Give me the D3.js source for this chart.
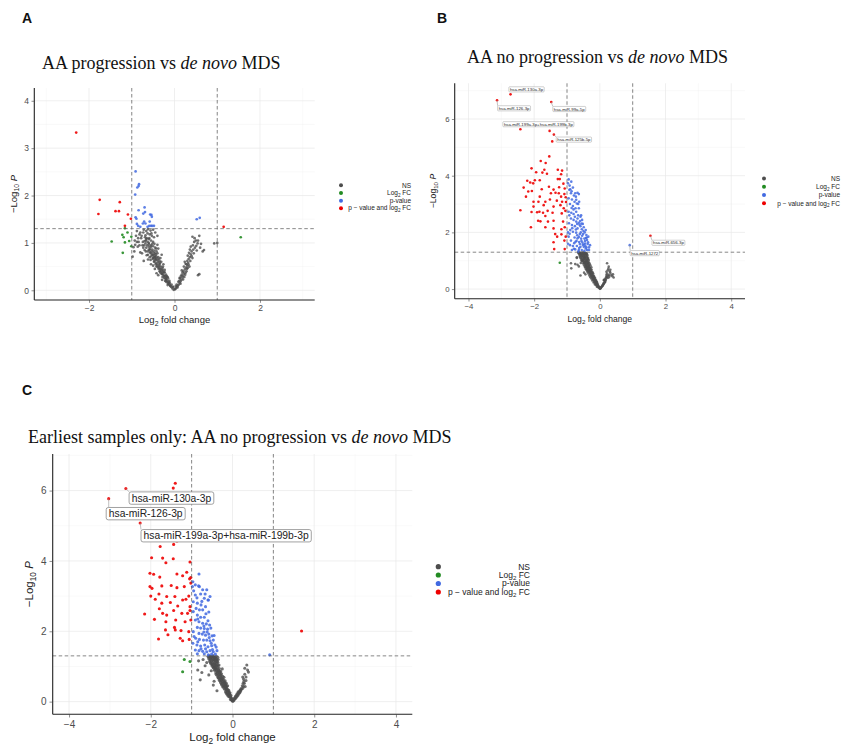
<!DOCTYPE html>
<html>
<head>
<meta charset="utf-8">
<script src="https://cdn.jsdelivr.net/npm/d3@7"></script>
<style>
body{margin:0;background:#fff}
svg{display:block}
</style>
</head>
<body>
<script>
// ---- Panel A: AA progression vs de novo MDS ----
var aNS = [[-0.02,0.01],[0.01,0.02],[-0.05,0.04],[0.04,0.05],[-0.08,0.07],[0.06,0.08],[-0.03,0.06],[0.02,0.03],[-0.1,0.09],[0.08,0.1],
  [-0.12,0.12],[-0.15,0.14],[-0.18,0.17],[-0.2,0.19],[-0.11,0.16],[-0.16,0.11],[0.1,0.12],[0.12,0.16],[0.14,0.19],[0.11,0.2],[-0.22,0.2],[-0.14,0.18],
  [-0.2,0.24],[-0.24,0.26],[-0.28,0.28],[-0.22,0.3],[-0.26,0.33],[-0.3,0.35],[-0.33,0.37],[-0.25,0.38],[-0.35,0.4],[-0.38,0.32],[-0.42,0.36],[-0.19,0.28],[-0.29,0.22],
  [0.16,0.22],[0.18,0.27],[0.2,0.3],[0.22,0.35],[0.19,0.38],[0.25,0.33],[0.15,0.3],[0.28,0.4],[0.55,0.32],[0.58,0.34],
  [-0.3,0.42],[-0.34,0.45],[-0.38,0.48],[-0.42,0.5],[-0.36,0.53],[-0.4,0.56],[-0.44,0.58],[-0.32,0.5],[-0.46,0.45],[-0.5,0.52],[-0.28,0.47],[-0.48,0.6],[-0.55,0.55],[-0.26,0.55],
  [0.24,0.44],[0.27,0.48],[0.3,0.52],[0.26,0.56],[0.32,0.58],[0.35,0.5],[0.22,0.5],
  [-0.35,0.62],[-0.4,0.64],[-0.45,0.66],[-0.5,0.68],[-0.38,0.7],[-0.43,0.72],[-0.48,0.74],[-0.53,0.76],[-0.58,0.7],[-0.62,0.65],[-0.33,0.68],[-0.56,0.79],[-0.46,0.78],[-0.65,0.74],[-0.72,0.62],[-0.3,0.75],
  [0.3,0.62],[0.33,0.66],[0.36,0.7],[0.31,0.73],[0.38,0.76],[0.42,0.68],[0.34,0.79],[0.45,0.78],
  [-0.42,0.82],[-0.47,0.84],[-0.52,0.86],[-0.57,0.88],[-0.62,0.82],[-0.45,0.9],[-0.5,0.93],[-0.55,0.95],[-0.6,0.97],[-0.66,0.9],[-0.7,0.85],[-0.38,0.88],[-0.75,0.95],[-0.4,0.96],[-0.68,0.99],[-0.8,0.8],[-0.86,0.92],[-0.96,0.91],[-0.98,0.71],[-0.94,0.82],
  [0.4,0.82],[0.44,0.86],[0.48,0.9],[0.38,0.92],[0.52,0.84],[0.62,0.98],[0.66,0.82],[0.69,0.85],[0.54,0.99],
  [-0.5,1.02],[-0.55,1.05],[-0.6,1.08],[-0.65,1.1],[-0.7,1.04],[-0.48,1.12],[-0.53,1.15],[-0.58,1.18],[-0.63,1.2],[-0.68,1.16],[-0.73,1.22],[-0.78,1.1],[-0.82,1.18],[-0.88,1.25],[-0.93,1.05],[-0.45,1.22],[-0.5,1.28],[-0.56,1.26],[-0.62,1.29],[-0.72,1.28],[-0.84,1.02],[-0.4,1.15],
  [0.42,1.13],[0.58,1.15],[0.5,1.05],[0.47,1.1],[0.93,0.99],[1.0,1.0],
  [-0.1,0.1],[-0.13,0.15],[-0.17,0.2],[-0.21,0.25],[-0.25,0.3],[-0.29,0.34],[-0.33,0.4],[-0.37,0.45],[-0.41,0.52],[-0.44,0.55],[-0.47,0.62],[-0.51,0.66],[-0.54,0.72],[-0.57,0.8],[-0.6,0.86],[-0.64,0.95],[-0.67,1.05],
  [-0.12,0.2],[-0.2,0.33],[-0.27,0.42],[-0.35,0.58],[-0.42,0.68],[-0.49,0.8],[-0.55,0.92],[-0.6,1.0],
  [0.05,0.12],[0.09,0.18],[0.13,0.25],[0.17,0.33],[0.21,0.4],[0.29,0.45],[0.24,0.6],[0.07,0.06],[0.03,0.09],
  [-0.15,0.25],[-0.18,0.3],[-0.23,0.38],[-0.31,0.45],[-0.36,0.5],[-0.39,0.6],[-0.44,0.64],[-0.46,0.7],[-0.51,0.75],[-0.53,0.82],[-0.58,0.85],[-0.6,0.92],[-0.63,1.02],[-0.66,1.08],[-0.69,1.12],[-0.71,0.95],
  [-0.74,1.02],[-0.77,1.15],[-0.8,1.22],[-0.85,1.1],[-0.9,1.15],[-0.66,1.25],[-0.54,1.2],[-0.59,1.1],[-0.47,0.98],[-0.52,0.98],[-0.43,0.88],[-0.48,0.7],[-0.4,0.78],[-0.34,0.56],[-0.31,0.6],[-0.28,0.38],
  [-0.23,0.43],[-0.16,0.28],[-0.07,0.12],[-0.04,0.08],[-0.19,0.22],[-0.27,0.5],[-0.37,0.66],[-0.44,0.76],[-0.56,0.64],[-0.62,0.75],[-0.67,0.82],[-0.73,0.9],[-0.76,0.78],[-0.82,0.95],[-0.88,1.02],[-0.92,0.96],
  [0.14,0.14],[0.2,0.23],[0.23,0.28],[0.26,0.37],[0.31,0.47],[0.28,0.55],[0.33,0.54],[0.37,0.62],[0.4,0.72],[0.43,0.95],[0.36,0.86],[0.46,1.02],[0.51,0.94],[0.55,1.05],[0.6,0.9],[0.17,0.42],[0.12,0.26]];
var aFC = [[-1.47,1.03],[-1.22,1.17],[-1.16,1.31],[-1.1,1.22],[-1.19,1.12],[-1.16,1.01],[-1.06,1.04],[-1.01,1.13],[-1.21,0.79],[-1.01,0.93],[1.55,1.12]];
var aP = [[-0.91,2.51],[-0.84,2.2],[-0.87,2.17],[-0.83,2.24],[-0.92,2.02],[-0.84,1.69],[-0.7,1.75],[-0.69,1.65],[-0.73,1.62],[-0.57,1.6],[-0.54,1.59],[-0.91,1.54],[-0.89,1.51],
  [-0.71,1.45],[-0.74,1.41],[-0.68,1.41],[-0.88,1.4],[-0.85,1.36],[-0.63,1.34],[-0.59,1.36],[-0.55,1.36],[-0.52,1.36],[-0.48,1.36],[-0.8,1.34],[-0.53,1.55],[-0.58,1.45],[0.52,1.5],[0.59,1.53]];
var aBoth = [[-2.3,3.33],[-1.75,1.91],[-1.78,1.61],[-1.28,1.86],[-1.38,1.67],[-1.3,1.67],[-1.09,1.6],[-1.02,1.51],[-1.16,1.36],[1.15,1.34]];

// ---- Panel B: AA no progression vs de novo MDS ----
var bNS = [[-0.66,1.28],[-0.6,1.27],[-0.55,1.29],[-0.5,1.26],[-0.45,1.28],[-0.4,1.25],[-0.63,1.22],[-0.57,1.2],[-0.52,1.22],[-0.47,1.2],[-0.42,1.21],[-0.38,1.18],[-0.61,1.15],[-0.55,1.14],[-0.5,1.16],[-0.45,1.13],[-0.4,1.12],[-0.36,1.1],
  [-0.58,1.08],[-0.53,1.07],[-0.48,1.09],[-0.43,1.05],[-0.38,1.04],[-0.34,1.02],[-0.56,1.01],[-0.52,1.02],[-0.7,1.12],[-0.88,0.91],[-0.87,0.73],[-0.75,0.88],[-0.52,1.0],[-0.7,1.1],
  [-0.54,0.98],[-0.49,0.96],[-0.44,0.95],[-0.39,0.97],[-0.34,0.94],[-0.51,0.9],[-0.46,0.88],[-0.41,0.89],[-0.36,0.87],[-0.31,0.9],[-0.48,0.83],[-0.43,0.82],[-0.38,0.8],[-0.33,0.81],[-0.29,0.84],
  [-0.45,0.76],[-0.4,0.74],[-0.35,0.75],[-0.3,0.73],[-0.26,0.77],[-0.42,0.7],[-0.37,0.72],[-0.64,0.8],[-0.58,0.92],[-0.68,0.86],
  [-0.4,0.67],[-0.35,0.66],[-0.3,0.65],[-0.25,0.68],[-0.38,0.61],[-0.33,0.6],[-0.28,0.62],[-0.23,0.6],[-0.35,0.55],[-0.3,0.53],[-0.25,0.55],[-0.2,0.54],[-0.32,0.48],[-0.27,0.47],[-0.22,0.49],[-0.18,0.46],
  [-0.29,0.42],[-0.24,0.41],[-0.19,0.43],[-0.15,0.4],[-0.59,0.48],[-0.48,0.58],[-0.44,0.52],
  [-0.26,0.37],[-0.21,0.36],[-0.16,0.35],[-0.12,0.33],[-0.23,0.3],[-0.18,0.29],[-0.13,0.28],[-0.09,0.26],[-0.19,0.23],[-0.14,0.22],[-0.1,0.2],[-0.07,0.18],[-0.15,0.16],[-0.11,0.14],[-0.07,0.12],[-0.04,0.1],
  [-0.09,0.08],[-0.05,0.06],[-0.02,0.04],[0.0,0.02],[0.02,0.03],[0.04,0.06],[0.06,0.09],[0.08,0.12],[0.1,0.15],[0.12,0.18],[0.14,0.22],[0.16,0.26],[0.13,0.3],[0.18,0.33],[0.2,0.38],[0.12,0.32],
  [0.22,0.43],[0.2,0.5],[0.22,0.55],[0.29,0.44],[0.32,0.58],[0.42,0.41],[0.22,0.91],[0.27,0.79],[0.2,0.61],[0.24,0.66],[0.35,0.5],[0.38,0.45],
  [-0.62,1.3],[-0.5,1.3],[-0.42,1.24],[-0.58,1.25],[-0.47,1.11],[-0.55,1.04],[-0.41,1.0],[-0.46,0.92],[-0.37,0.91],[-0.42,0.86],[-0.34,0.79],[-0.39,0.77],[-0.32,0.69],[-0.28,0.58],[-0.33,0.64],
  [-0.26,0.51],[-0.21,0.45],[-0.2,0.39],[-0.17,0.32],[-0.12,0.24],[-0.09,0.17],[-0.06,0.14],[-0.03,0.08],[0.01,0.01],
  [-0.63,1.26],[-0.57,1.23],[-0.53,1.25],[-0.48,1.25],[-0.43,1.27],[-0.39,1.22],[-0.6,1.18],[-0.54,1.17],[-0.49,1.19],[-0.44,1.17],[-0.4,1.15],[-0.59,1.11],[-0.51,1.12],[-0.46,1.06],[-0.41,1.08],
  [-0.36,1.06],[-0.5,1.04],[-0.47,1.01],[-0.43,0.98],[-0.38,0.99],[-0.36,0.93],[-0.41,0.92],[-0.48,0.93],[-0.33,0.86],[-0.39,0.84],[-0.44,0.79],[-0.36,0.77],[-0.31,0.76],[-0.28,0.7],[-0.34,0.71],
  [-0.39,0.69],[-0.27,0.63],[-0.31,0.58],[-0.36,0.63],[-0.22,0.57],[-0.27,0.52],[-0.23,0.45],[-0.17,0.41],[-0.2,0.34],[-0.15,0.3],[-0.11,0.27],[-0.16,0.24],[-0.08,0.21],[-0.12,0.17],[-0.06,0.1],
  [0.03,0.05],[0.07,0.1],[0.09,0.14],[0.11,0.2],[0.15,0.24],[0.17,0.29],[0.15,0.35],[0.19,0.42],[0.24,0.48],[0.26,0.4],[0.28,0.5],[0.3,0.62],[0.26,0.72],[0.32,0.68],[0.4,0.52]];
var bFC = [[-1.22,0.93]];
var bP = [[-0.95,3.87],[-0.87,3.79],[-0.92,3.65],[-0.97,3.73],[-0.82,3.58],[-0.68,3.4],[-0.64,3.35],[-0.75,3.38],[-0.88,3.38],[-0.95,3.2],[-0.85,3.16],[-0.77,3.08],[-0.7,3.02],[-0.91,3.0],[-0.82,2.93],
  [-0.74,2.85],[-0.64,2.85],[-0.95,2.73],[-0.87,2.69],[-0.8,2.65],[-0.72,2.73],[-0.59,2.55],[-0.68,2.49],[-0.54,2.44],[-0.88,2.49],[-0.8,2.44],[-0.72,2.38],[-0.64,2.34],[-0.94,2.32],[-0.85,2.26],
  [-0.76,2.22],[-0.59,2.22],[-0.49,2.18],[-0.68,2.14],[-0.55,2.11],[-0.43,2.08],[-0.9,2.08],[-0.82,2.02],[-0.72,1.99],[-0.61,1.94],[-0.51,1.94],[-0.41,1.91],[-0.35,1.85],[-0.95,1.85],[-0.77,1.82],
  [-0.68,1.79],[-0.57,1.78],[-0.47,1.78],[-0.39,1.73],[-0.88,1.71],[-0.74,1.67],[-0.63,1.66],[-0.53,1.64],[-0.45,1.61],[-0.37,1.59],[-0.91,1.55],[-0.82,1.52],[-0.7,1.52],[-0.59,1.49],[-0.49,1.49],
  [-0.41,1.47],[-0.33,1.47],[-0.85,1.38],[-0.75,1.4],[-0.64,1.38],[-0.55,1.38],[-0.47,1.35],[-0.39,1.38],[-0.61,1.59],[-0.54,1.88],[-0.56,2.31],[-0.63,3.08],[-0.73,3.26],[-0.9,3.52],[-0.8,2.81],
  [-0.66,2.6],[-0.58,2.0],[-0.45,1.7],[-0.52,1.56],[-0.43,1.43],[-0.66,1.32],[-0.5,2.05],[-0.62,2.27],[-0.69,1.9],[-0.78,1.62],
  [-0.93,3.5],[-0.86,3.45],[-0.79,3.3],[-0.72,3.15],[-0.66,3.0],[-0.86,2.86],[-0.93,2.6],[-0.76,2.55],[-0.69,2.3],[-0.6,2.4],[-0.52,2.3],[-0.46,2.0],[-0.4,1.82],[-0.36,1.65],[-0.3,1.55],
  [-0.33,1.38],[-0.44,1.52],[-0.56,1.7],[-0.64,1.84],[-0.73,2.1],[-0.84,2.15],[-0.97,2.0],[-0.92,1.95],[-0.97,1.6],[-0.79,1.42],[-0.71,1.7],[-0.48,1.57],[-0.42,1.8],[-0.63,1.45],[-0.57,2.6],
  [0.91,1.55]];
var bBoth = [[-2.72,6.87],[-3.13,6.66],[-1.48,6.6],[-2.42,5.64],[-1.53,5.58],[-1.4,5.45],[-1.45,5.21],
  [-1.54,4.68],[-1.8,4.52],[-1.65,4.45],[-2.08,4.26],[-1.69,4.21],[-1.94,4.12],[-1.75,4.11],[-1.61,4.07],[-1.28,4.21],[-1.15,4.18],[-1.18,4.05],[-1.28,3.88],[-1.22,3.88],
  [-2.21,3.82],[-2.12,3.76],[-1.98,3.84],[-2.03,3.73],[-1.83,3.84],[-2.32,3.58],[-2.18,3.44],[-2.07,3.46],[-1.77,3.52],[-1.55,3.61],[-1.41,3.51],[-1.11,3.72],[-1.24,3.59],[-1.07,3.55],
  [-2.25,3.26],[-1.83,3.26],[-1.49,3.38],[-1.35,3.4],[-1.25,3.38],[-1.18,3.26],[-1.08,3.35],[-1.04,3.24],[-2.02,3.08],[-1.87,3.08],[-1.66,3.08],[-1.52,3.16],[-1.31,3.12],[-1.15,3.08],[-1.03,3.07],
  [-2.02,2.91],[-1.71,2.96],[-1.41,2.91],[-1.2,2.96],[-1.1,2.85],[-2.42,2.78],[-2.08,2.72],[-1.91,2.71],[-1.84,2.73],[-1.73,2.69],[-1.59,2.76],[-1.44,2.69],[-1.66,2.58],[-1.16,2.67],[-1.05,2.76],
  [-1.88,2.41],[-1.81,2.39],[-1.58,2.38],[-1.41,2.41],[-1.12,2.38],[-2.1,2.18],[-1.66,2.18],[-1.41,2.14],[-1.17,2.11],[-1.07,2.18],[-1.36,1.94],[-1.17,1.93],[-1.3,1.85],[-1.04,1.85],
  [-1.41,1.65],[-1.08,1.71],[-1.39,1.41],[-1.07,1.41],[1.54,1.88]];
var bLabels = [["hsa-miR-130a-3p",-2.72,6.87],["hsa-miR-126-3p",-3.13,6.66],["hsa-miR-99a-5p",-1.48,6.6],
  ["hsa-miR-199a-3p+hsa-miR-199b-3p",-2.42,5.64],["hsa-miR-125b-5p",-1.4,5.45],["hsa-miR-656-3p",1.54,1.88],["hsa-miR-1272",0.91,1.55]];

// ---- Panel C: Earliest samples only ----
var cNS = [[-0.6,1.29],[-0.55,1.28],[-0.5,1.29],[-0.45,1.27],[-0.4,1.28],[-0.36,1.26],[-0.58,1.22],[-0.53,1.21],[-0.48,1.23],[-0.43,1.2],[-0.38,1.19],[-0.56,1.15],[-0.51,1.14],[-0.46,1.16],[-0.41,1.13],[-0.36,1.12],
  [-0.53,1.08],[-0.48,1.06],[-0.43,1.07],[-0.38,1.05],[-0.33,1.04],[-0.5,1.01],[-0.45,1.0],[-0.83,1.16],[-0.63,1.11],[-0.85,0.9],[-0.75,0.83],[-0.72,1.2],[-0.67,1.02],
  [-0.47,0.96],[-0.42,0.95],[-0.37,0.97],[-0.32,0.94],[-0.44,0.89],[-0.39,0.88],[-0.34,0.9],[-0.29,0.86],[-0.41,0.82],[-0.36,0.8],[-0.31,0.81],[-0.27,0.79],[-0.38,0.75],[-0.33,0.73],[-0.28,0.74],[-0.24,0.72],
  [-0.79,0.62],[-0.58,0.76],[-0.52,0.88],[-0.25,0.93],
  [-0.35,0.68],[-0.3,0.67],[-0.25,0.66],[-0.21,0.69],[-0.32,0.61],[-0.27,0.6],[-0.22,0.62],[-0.18,0.59],[-0.29,0.54],[-0.24,0.53],[-0.19,0.55],[-0.15,0.52],[-0.26,0.47],[-0.21,0.46],[-0.16,0.48],[-0.12,0.45],
  [-0.23,0.41],[-0.18,0.4],[-0.14,0.42],[-0.47,0.47],[-0.38,0.31],[-0.45,0.58],
  [-0.2,0.36],[-0.16,0.34],[-0.12,0.35],[-0.09,0.32],[-0.17,0.29],[-0.13,0.27],[-0.09,0.28],[-0.06,0.25],[-0.14,0.22],[-0.1,0.2],[-0.07,0.21],[-0.04,0.18],[-0.1,0.15],[-0.07,0.13],[-0.04,0.11],[-0.02,0.08],
  [-0.05,0.06],[-0.02,0.04],[0.0,0.02],[0.02,0.03],[0.04,0.05],[0.06,0.08],[0.08,0.1],[0.1,0.13],[0.12,0.16],[0.14,0.19],[0.16,0.23],[0.18,0.26],[0.2,0.3],[0.11,0.22],[0.14,0.28],[0.22,0.35],
  [0.25,0.38],[0.27,0.43],[0.31,0.43],[0.19,0.33],[0.27,0.64],[0.35,1.04],[0.37,0.9],[0.29,0.52],[0.33,0.7],[0.3,0.78],[0.08,0.16],
  [-0.57,1.3],[-0.47,1.3],[-0.42,1.25],[-0.52,1.26],[-0.44,1.1],[-0.5,1.05],[-0.4,1.02],[-0.4,0.92],[-0.35,0.85],[-0.3,0.77],[-0.36,0.7],[-0.28,0.64],[-0.24,0.57],[-0.2,0.5],[-0.17,0.44],
  [-0.15,0.38],[-0.11,0.3],[-0.08,0.23],[-0.05,0.15],[-0.03,0.1],[0.01,0.01],
  [-0.58,1.26],[-0.53,1.24],[-0.48,1.27],[-0.44,1.24],[-0.4,1.22],[-0.35,1.2],[-0.55,1.19],[-0.5,1.18],[-0.46,1.2],[-0.42,1.17],[-0.38,1.15],[-0.54,1.11],[-0.48,1.1],[-0.43,1.03],[-0.38,1.09],
  [-0.35,1.01],[-0.46,0.98],[-0.42,0.99],[-0.38,0.93],[-0.43,0.92],[-0.33,0.88],[-0.37,0.84],[-0.31,0.84],[-0.4,0.78],[-0.34,0.77],[-0.29,0.7],[-0.33,0.65],[-0.25,0.63],[-0.3,0.58],[-0.22,0.55],
  [-0.27,0.5],[-0.18,0.5],[-0.23,0.44],[-0.19,0.43],[-0.15,0.35],[-0.12,0.31],[-0.16,0.25],[-0.08,0.24],[-0.12,0.19],[-0.06,0.15],[-0.03,0.06],[0.03,0.07],[0.05,0.1],[0.07,0.14],[0.1,0.18],
  [0.13,0.22],[0.16,0.27],[0.18,0.31],[0.21,0.37],[0.24,0.45],[0.26,0.52],[0.28,0.58],[0.25,0.7],[0.33,0.6],[0.39,0.84],[0.3,0.95]];
var cFC = [[-1.18,1.2],[-1.04,1.14],[-1.22,0.85]];
var cP = [[-0.97,3.41],[-0.91,3.32],[-0.83,3.29],[-0.78,3.06],[-0.67,3.06],[-0.69,2.94],[-0.6,2.89],[-0.55,2.99],[-0.91,3.03],[-0.96,2.84],[-0.86,2.8],[-0.77,2.75],[-0.89,2.65],[-0.81,2.61],[-0.73,2.61],
  [-0.96,2.56],[-0.86,2.46],[-0.78,2.4],[-0.69,2.4],[-0.91,2.32],[-0.82,2.27],[-0.73,2.23],[-0.64,2.21],[-0.56,2.18],[-0.86,2.11],[-0.78,2.09],[-0.69,2.08],[-0.61,2.06],[-0.53,2.09],[-0.96,1.99],
  [-0.82,1.94],[-0.74,1.92],[-0.66,1.89],[-0.58,1.92],[-0.5,1.87],[-0.9,1.8],[-0.81,1.77],[-0.71,1.75],[-0.63,1.75],[-0.55,1.73],[-0.47,1.75],[-0.97,1.66],[-0.87,1.61],[-0.78,1.58],[-0.68,1.61],
  [-0.6,1.56],[-0.51,1.59],[-0.43,1.61],[-0.91,1.47],[-0.82,1.45],[-0.73,1.43],[-0.63,1.42],[-0.55,1.45],[-0.47,1.42],[-0.38,1.45],[-0.86,1.36],[-0.69,1.36],[-0.51,1.35],[-0.42,1.35],[-0.59,1.33],
  [-0.73,3.18],[-0.82,3.63],[-0.98,3.27],[-0.81,3.27],[-0.63,3.18],[-0.59,2.89],[-0.65,2.5],[-0.6,2.3],[-0.7,1.98],[-0.52,1.66],[-0.77,1.5],
  [-0.95,3.15],[-0.87,2.95],[-0.75,2.85],[-0.66,2.7],[-0.58,2.55],[-0.85,2.35],[-0.7,2.15],[-0.62,1.98],[-0.45,1.88],[-0.57,1.82],[-0.94,1.85],[-0.85,1.7],[-0.66,1.5],[-0.4,1.55],[-0.49,1.48],
  [0.91,1.33]];
var cBoth = [[-2.61,6.06],[-3.03,5.77],[-2.26,5.08],[-1.4,6.21],[-1.45,6.07],[-1.36,4.57],[-1.77,4.41],[-1.44,4.47],[-1.98,4.09],[-1.71,4.08],[-1.45,4.06],[-1.63,3.95],[-1.04,3.97],
  [-2.02,3.65],[-1.93,3.62],[-1.78,3.54],[-1.36,3.63],[-1.22,3.58],[-1.12,3.68],[-1.05,3.49],[-1.02,3.53],[-2.02,3.27],[-1.97,3.22],[-1.73,3.29],[-1.5,3.3],[-1.36,3.24],[-1.18,3.27],[-1.02,3.37],
  [-2.0,3.0],[-1.89,2.91],[-1.8,3.06],[-1.61,2.99],[-1.41,2.99],[-1.22,2.89],[-1.14,2.91],[-1.07,3.0],[-1.73,2.8],[-1.52,2.82],[-1.34,2.72],[-1.04,2.7],[-2.15,2.49],[-1.79,2.64],[-1.71,2.51],
  [-1.61,2.46],[-1.44,2.59],[-1.24,2.51],[-1.1,2.51],[-1.04,2.59],[-1.91,2.34],[-1.63,2.27],[-1.39,2.32],[-1.16,2.27],[-1.02,2.32],[-1.64,2.04],[-1.42,2.11],[-1.26,2.02],[-1.07,1.99],
  [-1.81,1.78],[-1.58,1.9],[-1.28,1.8],[-1.22,1.73],[-1.06,1.77],[-1.4,2.04],[1.69,2.01]];
var cLabels = [["hsa-miR-130a-3p",-2.61,6.06],["hsa-miR-126-3p",-3.03,5.77],["hsa-miR-199a-3p+hsa-miR-199b-3p",-2.26,5.08]];

var legendItems = ["NS", "Log2 FC", "p-value", "p \u2212 value and log2 FC"];
var colNS = "#4d4d4d", colFC = "#228B22", colP = "#4169E1", colBoth = "#EE0000";
var legendCols = [colNS, colFC, colP, colBoth];

var svg = d3.select("body").append("svg")
    .attr("width", 842)
    .attr("height", 746)
    .style("font-family", "'Liberation Sans', Arial, sans-serif");

function subText(sel, parts, fs){
    // parts: [text, "sub"|"it"|"", dy]
    parts.forEach(function(p){
        var t = sel.append("tspan").text(p[0]);
        if(p[1] == "sub"){ t.attr("font-size", fs*0.72).attr("dy", fs*0.28) }
        else if(p[2]){ t.attr("dy", p[2]) }
        if(p[1] == "it"){ t.attr("font-style", "italic") }
    })
}

function panel(o){
    var g = svg.append("g");
    var x = d3.scaleLinear().domain(o.xd).range([o.l, o.r]);
    var y = d3.scaleLinear().domain(o.yd).range([o.b, o.t]);

    // grid
    g.selectAll(".gxm").data(o.xMinor).enter().append("line")
        .attr("x1", d => x(d)).attr("x2", d => x(d)).attr("y1", o.t).attr("y2", o.b)
        .attr("stroke", "#f0f0f0").attr("stroke-width", 0.4);
    g.selectAll(".gym").data(o.yMinor).enter().append("line")
        .attr("y1", d => y(d)).attr("y2", d => y(d)).attr("x1", o.l).attr("x2", o.r)
        .attr("stroke", "#f0f0f0").attr("stroke-width", 0.4);
    g.selectAll(".gx").data(o.xTicks).enter().append("line")
        .attr("x1", d => x(d)).attr("x2", d => x(d)).attr("y1", o.t).attr("y2", o.b)
        .attr("stroke", "#e8e8e8").attr("stroke-width", 0.7);
    g.selectAll(".gy").data(o.yTicks).enter().append("line")
        .attr("y1", d => y(d)).attr("y2", d => y(d)).attr("x1", o.l).attr("x2", o.r)
        .attr("stroke", "#e8e8e8").attr("stroke-width", 0.7);

    // points
    [[o.ns, colNS, 0.8], [o.fc, colFC, 0.9], [o.p, colP, 0.85], [o.both, colBoth, 0.9]].forEach(function(s){
        g.append("g").selectAll("circle").data(s[0]).enter().append("circle")
            .attr("cx", d => x(d[0])).attr("cy", d => y(d[1]))
            .attr("r", o.pr).attr("fill", s[1]).attr("fill-opacity", s[2]);
    });

    // cutoffs
    [-1, 1].forEach(function(v){
        g.append("line").attr("x1", x(v)).attr("x2", x(v)).attr("y1", o.t).attr("y2", o.b)
            .attr("stroke", "#555").attr("stroke-width", 0.7).attr("stroke-dasharray", "3.5,2.5");
    });
    g.append("line").attr("x1", o.l).attr("x2", o.r).attr("y1", y(-Math.log10(0.05))).attr("y2", y(-Math.log10(0.05)))
        .attr("stroke", "#555").attr("stroke-width", 0.7).attr("stroke-dasharray", "3.5,2.5");

    // labels
    if(o.labels){
        o.labels.forEach(function(lb, i){
            var px = x(lb[1]), py = y(lb[2]);
            var cx = px + o.shift[i][0], cy = py + o.shift[i][1];
            var lg = g.append("g");
            var seg = lg.append("line").attr("stroke", "#999").attr("stroke-width", 0.6);
            var rect = lg.append("rect").attr("fill", "#fff").attr("stroke", "#8a8a8a")
                .attr("stroke-width", o.lfs > 6 ? 0.8 : 0.4).attr("rx", o.lfs * 0.2);
            var t = lg.append("text").attr("x", cx).attr("y", cy + o.lfs * 0.36)
                .attr("text-anchor", "middle").attr("font-size", o.lfs).attr("fill", "#222").text(lb[0]);
            var w = t.node().getComputedTextLength() + o.lfs * 0.5, h = o.lfs * 1.2;
            rect.attr("x", cx - w/2).attr("y", cy - h/2).attr("width", w).attr("height", h);
            var ex = Math.max(cx - w/2, Math.min(px, cx + w/2)), ey = Math.max(cy - h/2, Math.min(py, cy + h/2));
            if(Math.hypot(ex - px, ey - py) > 3){
                seg.attr("x1", px).attr("y1", py).attr("x2", ex).attr("y2", ey);
            }
        });
    }

    // axes
    var ax = g.append("g").attr("transform", "translate(0," + o.b + ")")
        .call(d3.axisBottom(x).tickValues(o.xTicks).tickFormat(d3.format("d")).tickSize(o.tk).tickSizeOuter(0).tickPadding(o.tp));
    var ay = g.append("g").attr("transform", "translate(" + o.l + ",0)")
        .call(d3.axisLeft(y).tickValues(o.yTicks).tickFormat(d3.format("d")).tickSize(o.tk).tickSizeOuter(0).tickPadding(o.tp));
    [ax, ay].forEach(function(a){
        a.select(".domain").attr("stroke", "#222").attr("stroke-width", 1.1);
        a.selectAll(".tick line").attr("stroke", "#444").attr("stroke-width", 0.6);
        a.selectAll(".tick text").attr("fill", "#4d4d4d").attr("font-size", o.tfs)
            .attr("font-family", "'Liberation Sans', Arial, sans-serif");
    });
    ax.select(".domain").attr("d", "M" + o.l + ",0H" + o.r);
    ay.select(".domain").attr("d", "M0," + o.t + "V" + o.b);

    // axis titles
    var xt = g.append("text").attr("x", (o.l + o.r) / 2).attr("y", o.xlY)
        .attr("text-anchor", "middle").attr("font-size", o.afs).attr("fill", "#222");
    subText(xt, [["Log", ""], ["2", "sub"], [" fold change", "", -o.afs * 0.28]], o.afs);
    var yt = g.append("text").attr("transform", "translate(" + o.ylX + "," + (o.t + o.b) / 2 + ") rotate(-90)")
        .attr("text-anchor", "middle").attr("font-size", o.afs).attr("fill", "#222");
    subText(yt, [["\u2212Log", ""], ["10", "sub"], [" ", "", -o.afs * 0.28], ["P", "it"]], o.afs);

    // legend
    var lg = g.append("g");
    legendItems.forEach(function(it, i){
        var ry = o.legY[i];
        lg.append("circle").attr("cx", o.legDot).attr("cy", ry).attr("r", o.legR).attr("fill", legendCols[i]);
        var t = lg.append("text").attr("x", o.legEnd).attr("y", ry + o.lefs * 0.35)
            .attr("text-anchor", "end").attr("font-size", o.lefs).attr("fill", "#222");
        var k = it.toLowerCase().indexOf("log2");
        if(k > -1){
            subText(t, [[it.slice(0, k + 3), ""], ["2", "sub"], [it.slice(k + 4), "", -o.lefs * 0.28]], o.lefs);
        } else {
            t.text(it);
        }
    });

    // title + panel letter
    var tt = svg.append("text").attr("x", o.titleX).attr("y", o.titleY)
        .attr("font-family", "'Liberation Serif', 'Times New Roman', serif").attr("font-size", 18).attr("fill", "#111");
    o.title.forEach(function(p){
        var s = tt.append("tspan").text(p[0]);
        if(p[1]) s.attr("font-style", "italic");
    });
    svg.append("text").attr("x", o.letterX).attr("y", o.letterY).attr("font-size", 14)
        .attr("font-weight", "bold").attr("fill", "#111").text(o.letter);
}

panel({
    l: 34.3, r: 314.7, t: 88, b: 300, xd: [-3.28, 3.28], yd: [-0.205, 4.27],
    xTicks: [-2, 0, 2], xMinor: [-3, -1, 1, 3], yTicks: [0, 1, 2, 3, 4], yMinor: [0.5, 1.5, 2.5, 3.5],
    ns: aNS, fc: aFC, p: aP, both: aBoth, pr: 1.35,
    tk: 2.8, tp: 2.5, tfs: 8.5, afs: 9.5, xlY: 323, ylX: 16.5,
    legDot: 341, legEnd: 411, legY: [185.3, 193, 200.7, 208.2], legR: 2, lefs: 6.5,
    title: [["AA progression vs ", 0], ["de novo", 1], [" MDS", 0]], titleX: 42, titleY: 69,
    letter: "A", letterX: 22, letterY: 23
});

panel({
    l: 454.7, r: 745, t: 83.3, b: 298.7, xd: [-4.42, 4.42], yd: [-0.34, 7.26],
    xTicks: [-4, -2, 0, 2, 4], xMinor: [-3, -1, 1, 3], yTicks: [0, 2, 4, 6], yMinor: [1, 3, 5, 7],
    ns: bNS, fc: bFC, p: bP, both: bBoth, pr: 1.3,
    labels: bLabels, shift: [[16, -5], [17, 8], [18, 7], [18, -5], [20, 5], [18, 7], [15, 8]], lfs: 4.3,
    tk: 2.8, tp: 2.3, tfs: 7.8, afs: 8.6, xlY: 321.5, ylX: 436,
    legDot: 764, legEnd: 840, legY: [178.5, 186.7, 195, 203.3], legR: 2, lefs: 6.5,
    title: [["AA no progression vs ", 0], ["de novo", 1], [" MDS", 0]], titleX: 467, titleY: 63,
    letter: "B", letterX: 437, letterY: 23
});

panel({
    l: 52.7, r: 412.3, t: 454, b: 714.3, xd: [-4.4, 4.4], yd: [-0.36, 7.04],
    xTicks: [-4, -2, 0, 2, 4], xMinor: [-3, -1, 1, 3], yTicks: [0, 2, 4, 6], yMinor: [1, 3, 5, 7],
    ns: cNS, fc: cFC, p: cP, both: cBoth, pr: 1.55,
    labels: cLabels, shift: [[45.6, 9.6], [37, 15], [86, 12.8]], lfs: 10.3,
    tk: 3.2, tp: 3, tfs: 10, afs: 11.5, xlY: 740.5, ylX: 33,
    legDot: 438.3, legEnd: 530, legY: [566.7, 575, 583.5, 592], legR: 2.6, lefs: 8.5,
    title: [["Earliest samples only: AA no progression vs ", 0], ["de novo", 1], [" MDS", 0]], titleX: 28, titleY: 443,
    letter: "C", letterX: 22, letterY: 395
});
</script>
</body>
</html>
